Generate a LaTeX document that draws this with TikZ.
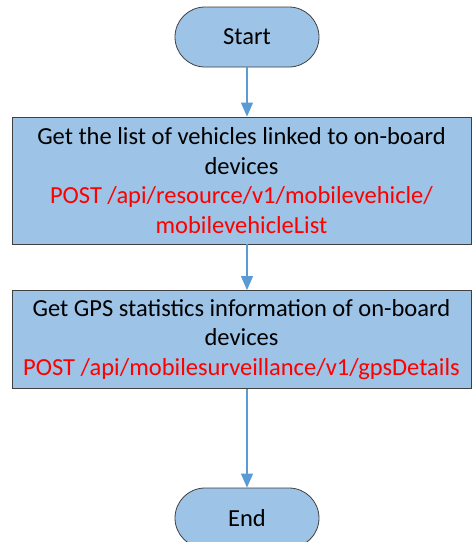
\documentclass[tikz,border=0pt]{standalone}
\usepackage{fontspec}
\setmainfont{Carlito}
\usetikzlibrary{arrows.meta,shapes.misc}
\definecolor{boxfill}{HTML}{9DC3E6}
\definecolor{boxedge}{HTML}{404040}
\definecolor{arrowblue}{HTML}{5B9BD5}
\definecolor{apired}{HTML}{FF0000}
\tikzset{
  terminal/.style={draw=boxedge, fill=boxfill, line width=0.8pt, rounded rectangle, minimum width=144pt, minimum height=60pt, inner sep=0pt, font=\fontsize{24.5}{29.5}\selectfont},
  procbox/.style={draw=boxedge, fill=boxfill, line width=0.9pt, rectangle, minimum width=459pt, inner sep=0pt, align=center, font=\fontsize{24.5}{29.5}\selectfont},
  flow/.style={draw=arrowblue, line width=1.2pt, -{Triangle[length=14pt,width=12pt]}},
  apitext/.style={text=apired}
}
\begin{document}
\begin{tikzpicture}[x=1pt,y=-1pt]
\useasboundingbox (0,0) rectangle (472,542);
\node[terminal] (start) at (247,37) {Start};
\node[procbox, minimum height=127pt] (get1) at (241.5,180.5) {Get the list of vehicles linked to on-board\\devices\\\textcolor{apired}{POST /api/resource/v1/mobilevehicle/}\\\textcolor{apired}{mobilevehicleList}};
\node[procbox, minimum height=98pt] (get2) at (241.5,339.5) {Get GPS statistics information of on-board\\devices\\\textcolor{apired}{POST /api/mobilesurveillance/v1/gpsDetails}};
\node[terminal] (end) at (247,518) {End};
\draw[flow] (start.south) -- (start.south |- get1.north);
\draw[flow] (start.south |- get1.south) -- (start.south |- get2.north);
\draw[flow] (start.south |- get2.south) -- (end.north);
\end{tikzpicture}
\end{document}
